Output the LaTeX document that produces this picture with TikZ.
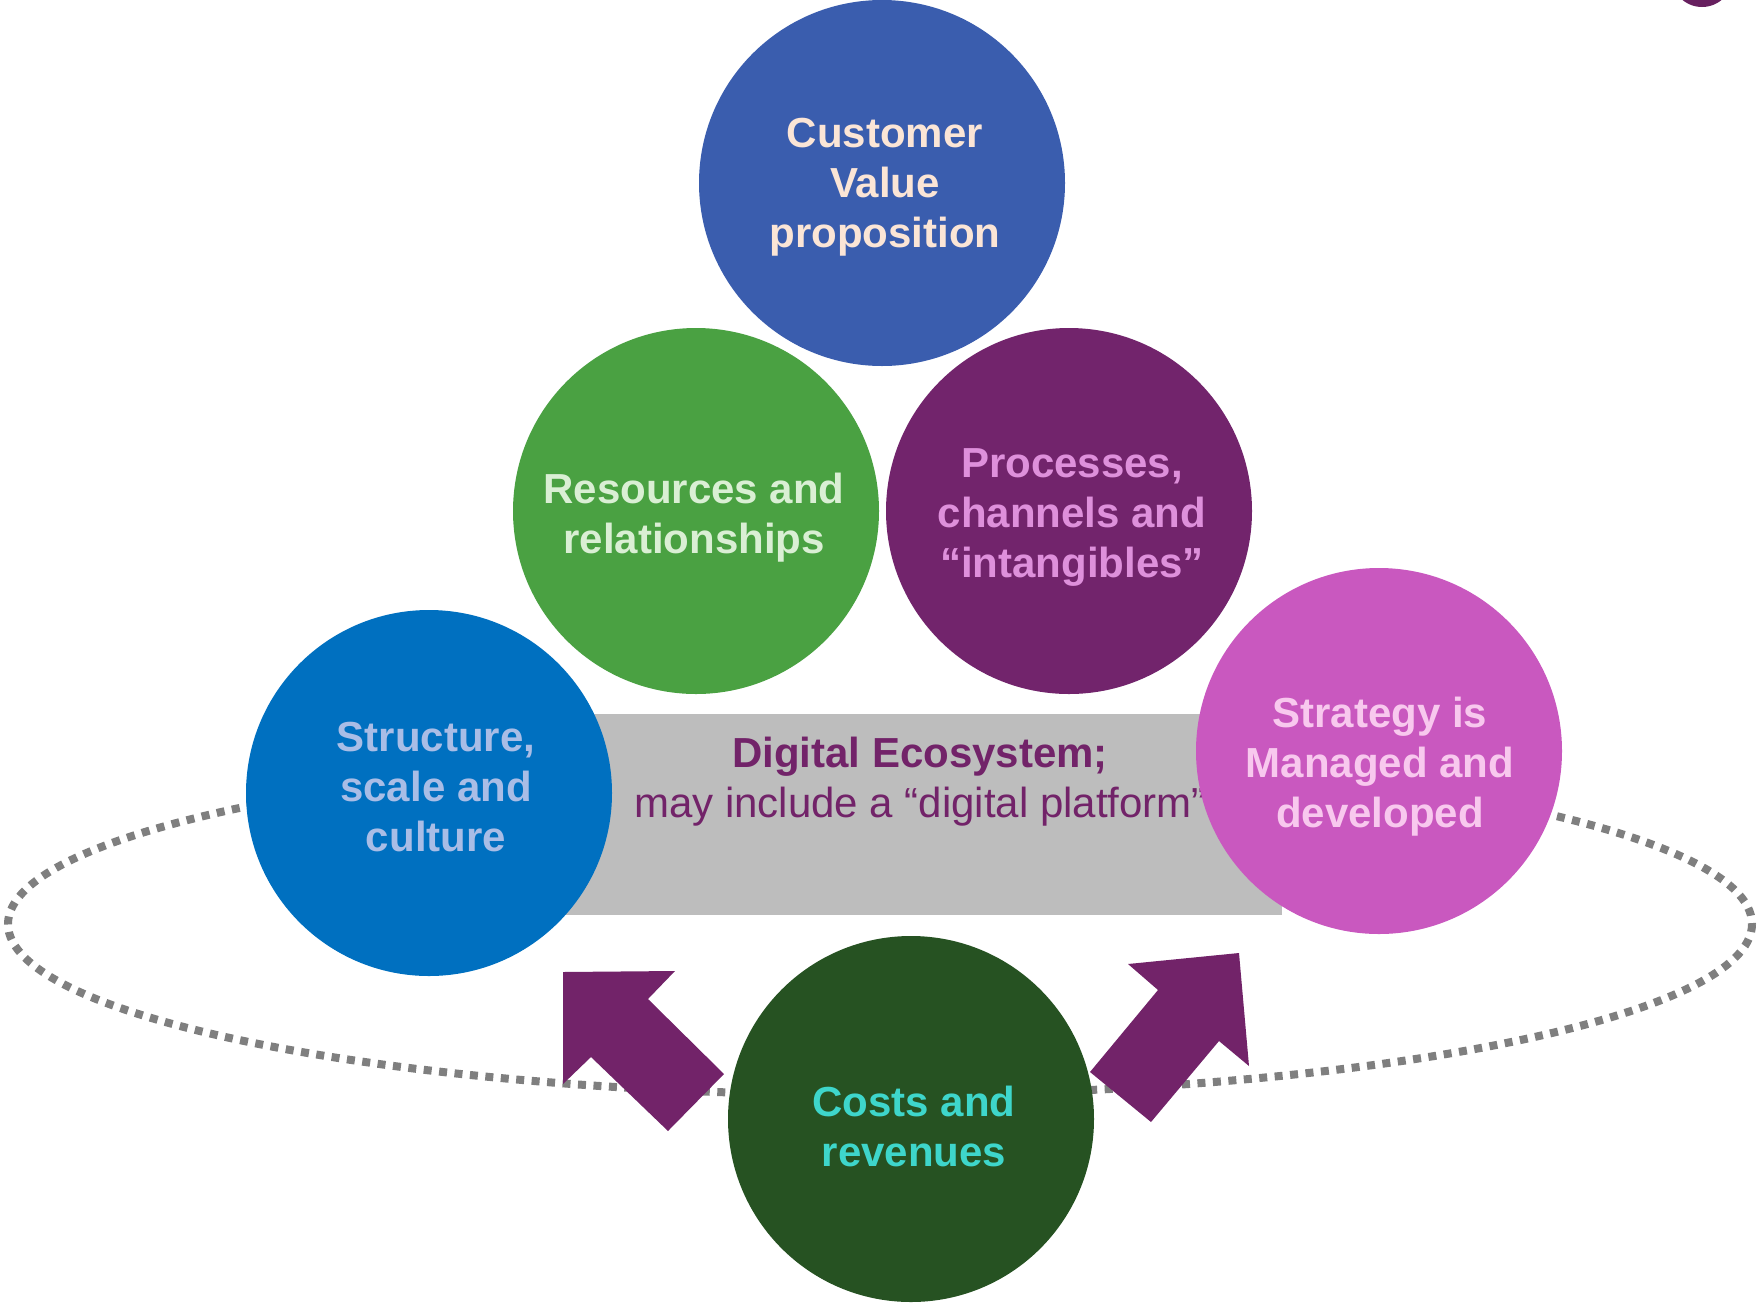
\documentclass[tikz,border=0pt]{standalone}
\usepackage{fontspec}
\setmainfont{Liberation Sans}
\definecolor{custblue}{HTML}{3A5DAE}
\definecolor{custtext}{HTML}{FBE5D6}
\definecolor{resgreen}{HTML}{4AA142}
\definecolor{restext}{HTML}{DAEFD4}
\definecolor{procpurple}{HTML}{72246C}
\definecolor{proctext}{HTML}{DE90DB}
\definecolor{structblue}{HTML}{0070C0}
\definecolor{structtext}{HTML}{A9BDE6}
\definecolor{stratpink}{HTML}{C958BF}
\definecolor{strattext}{HTML}{F8C8EE}
\definecolor{costgreen}{HTML}{265222}
\definecolor{costtext}{HTML}{3ED6CB}
\definecolor{rectgray}{HTML}{BDBDBD}
\definecolor{ecopurple}{HTML}{722369}
\definecolor{dotgray}{HTML}{7F7F7F}
\begin{document}
\begin{tikzpicture}[x=1pt,y=-1pt,
  bubble/.style={circle,minimum size=366pt,inner sep=0pt},
  lbl/.style={align=center,inner sep=0pt,font=\bfseries\fontsize{42}{50}\selectfont},
  dotline/.style={draw=dotgray,line width=8pt,dash pattern=on 8pt off 7.5pt},
  blockarrow/.style={fill=ecopurple}]
\useasboundingbox (0,0) rectangle (1761,1302);
% dotted ellipse
\draw[dotline] (880,924) ellipse [x radius=872, y radius=171];
% ecosystem rectangle
\node[rectangle,fill=rectgray,minimum width=722pt,minimum height=201pt,inner sep=0pt,anchor=north west] (eco) at (560,714) {};
\node[align=center,inner sep=0pt,text=ecopurple,font=\fontsize{42}{50}\selectfont] (ecotxt) at (920,782)
  {{\bfseries Digital Ecosystem;}\\may include a “digital platform”};
% circles
\node[bubble,fill=custblue] (cust) at (882,183) {};
\node[lbl,text=custtext] (custlbl) at (885,187) {Customer\\Value\\proposition};
\node[bubble,fill=resgreen] (res) at (696,511) {};
\node[lbl,text=restext] (reslbl) at (694,518) {Resources and\\relationships};
\node[bubble,fill=procpurple] (proc) at (1069,511) {};
\node[lbl,text=proctext] (proclbl) at (1072,517) {Processes,\\channels and\\“intangibles”};
\node[bubble,fill=structblue] (struct) at (429,793) {};
\node[lbl,text=structtext] (structlbl) at (436,787) {Structure,\\scale and\\culture};
\node[bubble,fill=stratpink] (strat) at (1379,751) {};
\node[lbl,text=strattext] (stratlbl) at (1380,767) {Strategy is\\Managed and\\developed};
\node[bubble,fill=costgreen] (cost) at (911,1119) {};
\node[lbl,text=costtext] (costlbl) at (914,1126) {Costs and\\revenues};
% block arrows
\fill[blockarrow] (563,972) -- (675,971) -- (648,999) -- (724,1074) -- (668,1131) -- (591,1057) -- (563,1084) -- cycle;
\fill[blockarrow] (1239,953) -- (1249,1066) -- (1219,1041) -- (1151,1122) -- (1090,1072) -- (1158,990) -- (1128,964) -- cycle;
% partial shape at top right
\fill[ecopurple!90!black] (1702,-23.6) circle [radius=30.6];
\end{tikzpicture}
\end{document}
